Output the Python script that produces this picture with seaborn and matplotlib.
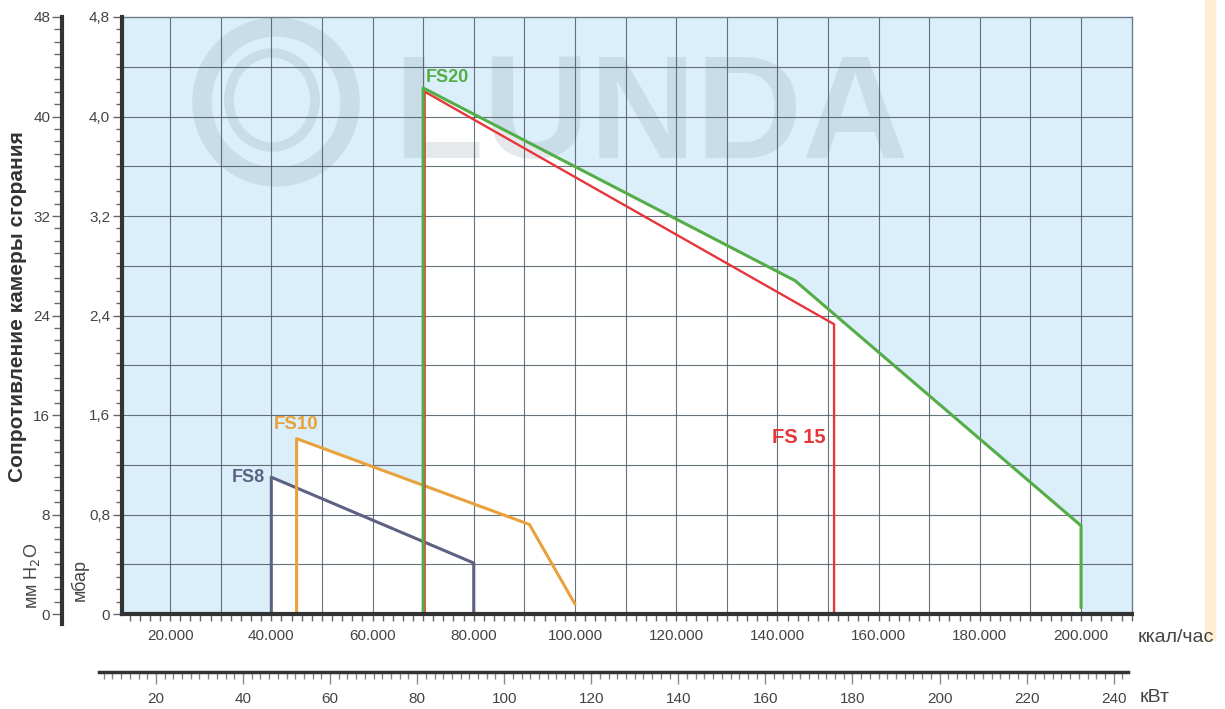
import matplotlib
matplotlib.use("Agg")
import matplotlib.pyplot as plt
import seaborn as sns
import pandas as pd
from matplotlib.patches import Ellipse, Rectangle
from matplotlib.ticker import MultipleLocator, FixedLocator

# burner working fields: kcal/h vs combustion chamber resistance, mbar
fs8_kcal = [40000, 40000, 80000, 80000]
fs8_mbar = [0, 1.10, 0.41, 0]
fs10_kcal = [45000, 45000, 91000, 100000]
fs10_mbar = [0, 1.41, 0.72, 0.08]
fs15_kcal = [70300, 70300, 151200, 151200]
fs15_mbar = [0, 4.20, 2.33, 0]
fs20_kcal = [70000, 70000, 143500, 200000, 200000]
fs20_mbar = [0, 4.23, 2.68, 0.71, 0.05]

x_ticks = [20000, 40000, 60000, 80000, 100000, 120000, 140000, 160000, 180000, 200000]
x_labels = ["20.000", "40.000", "60.000", "80.000", "100.000", "120.000",
            "140.000", "160.000", "180.000", "200.000"]
mbar_ticks = [0, 0.8, 1.6, 2.4, 3.2, 4.0, 4.8]
mbar_labels = ["0", "0,8", "1,6", "2,4", "3,2", "4,0", "4,8"]
mm_ticks = [0, 8, 16, 24, 32, 40, 48]
kw_ticks = [20, 40, 60, 80, 100, 120, 140, 160, 180, 200, 220, 240]

palette = {"FS8": "#5d6283", "FS10": "#e9a23b", "FS15": "#e8353b", "FS20": "#55ad48"}

W, H = 1225, 709


def fx(px):
    return px / W


def fy(py):
    return 1 - py / H


if __name__ == '__main__':
    sns.set_theme(style="white")
    plt.rcParams['font.family'] = ['Liberation Sans', 'DejaVu Sans']

    frames = []
    for name, xs, ys in [("FS8", fs8_kcal, fs8_mbar), ("FS10", fs10_kcal, fs10_mbar),
                         ("FS15", fs15_kcal, fs15_mbar), ("FS20", fs20_kcal, fs20_mbar)]:
        frames.append(pd.DataFrame({"burner": name, "kcal": xs, "mbar": ys}))
    df = pd.concat(frames, ignore_index=True)

    fig = plt.figure(figsize=(W / 100, H / 100), dpi=100)
    ax = fig.add_axes([fx(122), fy(614), fx(1132) - fx(122), fy(17) - fy(614)])
    ax.set_facecolor("#dbeffa")
    ax.set_xlim(10500, 210070)
    ax.set_ylim(0, 4.8)

    # white working areas
    for xs, ys in [(fs8_kcal, fs8_mbar), (fs10_kcal, fs10_mbar), (fs20_kcal, fs20_mbar)]:
        ax.fill(xs + [xs[-1]], ys + [0], color="white", lw=0, zorder=1)

    # watermark
    wm_col = "#7f95a3"
    wm = dict(transform=ax.transAxes, fill=False, ec=wm_col, alpha=0.2, zorder=1.5)
    ax.add_patch(Ellipse(((276 - 122) / 1010, (614 - 102) / 597), 148 / 1010, 150 / 597, lw=14, **wm))
    ax.add_patch(Ellipse(((272 - 122) / 1010, (614 - 100) / 597), 86 / 1010, 94 / 597, lw=7, **wm))
    ax.text((393 - 122) / 1010, (614 - 158) / 597, "LUNDA", transform=ax.transAxes,
            fontsize=106, fontweight="bold", color=wm_col, alpha=0.2,
            ha="left", va="baseline", zorder=1.5)

    # grid
    for gx in range(20000, 210000, 10000):
        ax.axvline(gx, color="#4d5964", lw=0.8, alpha=0.85, zorder=2)
    for gy in [0.4, 0.8, 1.2, 1.6, 2.0, 2.4, 2.8, 3.2, 3.6, 4.0, 4.4]:
        ax.axhline(gy, color="#4d5964", lw=0.8, alpha=0.85, zorder=2)

    sns.lineplot(data=df, x="kcal", y="mbar", hue="burner", palette=palette,
                 estimator=None, sort=False, legend=False, lw=2.2, ax=ax, zorder=3)
    for line in ax.get_lines()[-4:]:
        if line.get_color() == palette["FS15"]:
            line.set_linewidth(1.7)

    # curve labels
    ax.text(70540, 4.31, "FS20", color=palette["FS20"], fontsize=13, fontweight="bold",
            ha="left", va="center", zorder=4)
    ax.text(138850, 1.42, "FS 15", color=palette["FS15"], fontsize=14.5, fontweight="bold",
            ha="left", va="center", zorder=4)
    ax.text(40530, 1.52, "FS10", color=palette["FS10"], fontsize=13.5, fontweight="bold",
            ha="left", va="center", zorder=4)
    ax.text(38760, 1.10, "FS8", color=palette["FS8"], fontsize=13, fontweight="bold",
            ha="right", va="center", zorder=4)

    ax.set_xlabel("")
    ax.set_ylabel("")
    for s in ["left", "bottom"]:
        ax.spines[s].set_linewidth(3)
        ax.spines[s].set_color("#333333")
        ax.spines[s].set_zorder(5)
    for s in ["top", "right"]:
        ax.spines[s].set_linewidth(1)
        ax.spines[s].set_color("#6b7b88")

    ax.xaxis.set_major_locator(FixedLocator(x_ticks))
    ax.set_xticklabels(x_labels)
    ax.xaxis.set_minor_locator(MultipleLocator(2000))
    ax.yaxis.set_major_locator(FixedLocator(mbar_ticks))
    ax.set_yticklabels(mbar_labels)
    ax.yaxis.set_minor_locator(MultipleLocator(0.1))
    ax.tick_params(which="both", direction="out", color="#666666", width=1,
                   labelsize=11, labelcolor="#444444", bottom=True, left=True)
    ax.tick_params(axis="y", which="major", length=6.5, pad=2)
    ax.tick_params(axis="y", which="minor", length=4.5)
    ax.tick_params(axis="x", which="both", length=5, pad=6)

    # mm H2O axis
    ax_mm = fig.add_axes([fx(62), fy(624), 0.0005, fy(17) - fy(624)])
    ax_mm.set_facecolor("none")
    ax_mm.set_ylim(-0.8, 48)
    for s in ["right", "top", "bottom"]:
        ax_mm.spines[s].set_visible(False)
    ax_mm.spines["left"].set_linewidth(3)
    ax_mm.spines["left"].set_color("#333333")
    ax_mm.set_xticks([])
    ax_mm.yaxis.set_major_locator(FixedLocator(mm_ticks))
    ax_mm.yaxis.set_minor_locator(MultipleLocator(1))
    ax_mm.tick_params(which="both", direction="out", color="#666666", width=1,
                      labelsize=11, labelcolor="#444444", left=True)
    ax_mm.tick_params(which="major", length=7.5, pad=1)
    ax_mm.tick_params(which="minor", length=5.5)

    # kW axis
    ax_kw = fig.add_axes([fx(99), fy(672), fx(1128) - fx(99), 0.0005])
    ax_kw.set_facecolor("none")
    ax_kw.set_xlim(6.92, 243.3)
    for s in ["left", "right", "top"]:
        ax_kw.spines[s].set_visible(False)
    ax_kw.spines["bottom"].set_linewidth(2.5)
    ax_kw.spines["bottom"].set_color("#333333")
    ax_kw.set_yticks([])
    ax_kw.xaxis.set_major_locator(FixedLocator(kw_ticks))
    ax_kw.xaxis.set_minor_locator(MultipleLocator(2))
    ax_kw.tick_params(which="both", direction="out", color="#8a8a8a", width=1,
                      labelsize=11, labelcolor="#444444", bottom=True)
    ax_kw.tick_params(which="major", length=8.6, pad=6)
    ax_kw.tick_params(which="minor", length=5)

    # axis titles
    fig.text(fx(18), fy(307), "Сопротивление камеры сгорания", rotation=90, fontsize=15,
             fontweight="bold", color="#333333", ha="center", va="center")
    fig.text(fx(32), fy(576), "мм H$_2$O", rotation=90, fontsize=13, color="#444444",
             ha="center", va="center")
    fig.text(fx(80), fy(580), "мбар", rotation=90, fontsize=13, color="#444444",
             ha="center", va="center")
    fig.text(fx(1138), fy(637), "ккал/час", fontsize=14, color="#444444", ha="left", va="center")
    fig.text(fx(1140), fy(698), "кВт", fontsize=14, color="#444444", ha="left", va="center")

    # scan edge
    fig.patches.append(Rectangle((fx(1205), fy(640)), fx(10), fy(0) - fy(640),
                                 transform=fig.transFigure, color="#fdeed2", zorder=0))

    fig.savefig("out.png", dpi=100)
